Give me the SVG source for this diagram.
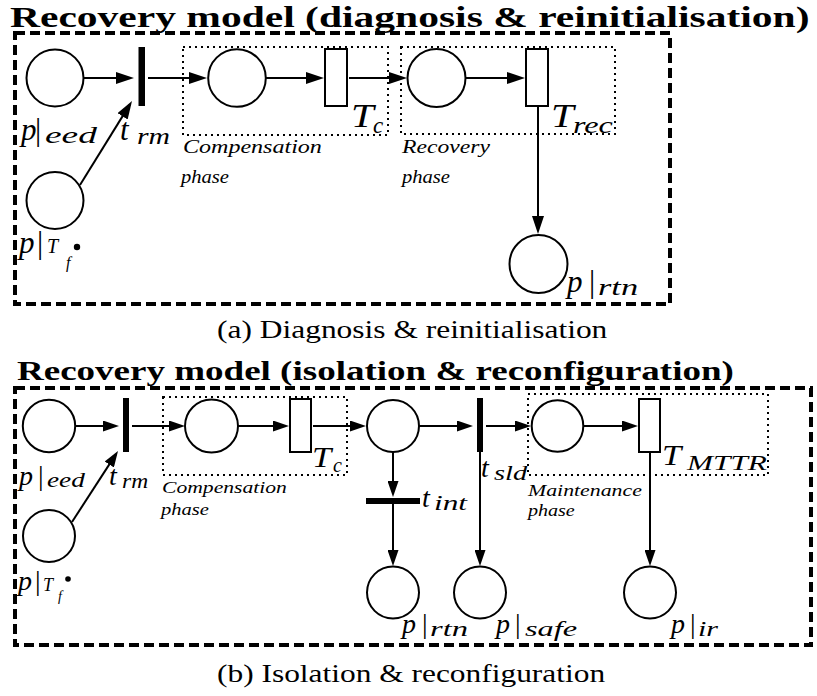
<svg xmlns="http://www.w3.org/2000/svg" width="817" height="696" viewBox="0 0 817 696">
  <style>
    .outer { fill: none; stroke: #000; stroke-width: 4; stroke-dasharray: 10 5; }
    .phase { fill: none; stroke: #000; stroke-width: 2; stroke-dasharray: 2 4; }
    .place { fill: #fff; stroke: #000; stroke-width: 2; }
    .imm { fill: #000; }
    .timed { fill: #fff; stroke: #000; stroke-width: 2; }
    .arc { fill: none; stroke: #000; stroke-width: 2; }
  </style>
  <defs>
    <marker id="arrA" viewBox="0 0 18 12" markerWidth="18" markerHeight="12" refX="14" refY="6" orient="auto" markerUnits="userSpaceOnUse">
      <path d="M0,0 L18,6 L0,12 z" fill="#000"/>
    </marker>
    <marker id="arrB" viewBox="0 0 16 11" markerWidth="16" markerHeight="11" refX="12" refY="5.5" orient="auto" markerUnits="userSpaceOnUse">
      <path d="M0,0 L16,5.5 L0,11 z" fill="#000"/>
    </marker>
  </defs>
  <rect width="817" height="696" fill="#fff"/>

  <!-- frames: dashed model borders, dotted phase boxes -->
  <rect class="outer" x="15" y="33" width="655" height="271"/>
  <rect class="outer" x="15" y="388" width="796" height="257"/>
  <rect class="phase" x="183" y="47" width="205" height="88"/>
  <rect class="phase" x="401" y="47" width="214" height="87"/>
  <rect class="phase" x="163" y="397" width="184" height="78"/>
  <rect class="phase" x="528" y="394" width="240" height="81"/>

  <!-- titles, captions, phase names (wide lettering via horizontal scale) -->
  <text font-family="Liberation Serif, serif" font-weight="bold" font-size="30" transform="translate(10,27) scale(1.384,1)">Recovery model (diagnosis &amp; reinitialisation)</text>
  <text font-family="Liberation Serif, serif" font-size="26" transform="translate(217,338) scale(1.21,1)">(a) Diagnosis &amp; reinitialisation</text>
  <text font-family="Liberation Serif, serif" font-weight="bold" font-size="26.5" transform="translate(17,380) scale(1.397,1)">Recovery model (isolation &amp; reconfiguration)</text>
  <text font-family="Liberation Serif, serif" font-size="26" transform="translate(217,682) scale(1.208,1)">(b) Isolation &amp; reconfiguration</text>

  <text font-family="Liberation Serif, serif" font-style="italic" font-size="19" transform="translate(183,153) scale(1.266,1)">Compensation</text>
  <text font-family="Liberation Serif, serif" font-style="italic" font-size="19" transform="translate(181,183) scale(1.083,1)">phase</text>
  <text font-family="Liberation Serif, serif" font-style="italic" font-size="19" transform="translate(402,153) scale(1.245,1)">Recovery</text>
  <text font-family="Liberation Serif, serif" font-style="italic" font-size="19" transform="translate(402,183) scale(1.083,1)">phase</text>
  <text font-family="Liberation Serif, serif" font-style="italic" font-size="17" transform="translate(162,493) scale(1.273,1)">Compensation</text>
  <text font-family="Liberation Serif, serif" font-style="italic" font-size="17" transform="translate(161,515) scale(1.21,1)">phase</text>
  <text font-family="Liberation Serif, serif" font-style="italic" font-size="17" transform="translate(528,496) scale(1.284,1)">Maintenance</text>
  <text font-family="Liberation Serif, serif" font-style="italic" font-size="17" transform="translate(528,516) scale(1.18,1)">phase</text>

  <!-- arcs -->
  <g id="connectors">
    <g class="arc" marker-end="url(#arrA)">
      <line x1="84" y1="78" x2="130" y2="78"/>
      <line x1="80" y1="185" x2="129.9" y2="104.4"/>
      <line x1="148" y1="78" x2="203" y2="78"/>
      <line x1="266" y1="78" x2="320" y2="78"/>
      <line x1="349" y1="78" x2="403" y2="78"/>
      <line x1="466" y1="78" x2="521" y2="78"/>
      <line x1="538" y1="107" x2="538" y2="230"/>
    </g>
    <g class="arc" marker-end="url(#arrB)">
      <line x1="75" y1="426" x2="115" y2="426"/>
      <line x1="72" y1="522" x2="115.8" y2="454.4"/>
      <line x1="132" y1="426" x2="181" y2="426"/>
      <line x1="238" y1="426" x2="285" y2="426"/>
      <line x1="313" y1="426" x2="362" y2="426"/>
      <line x1="419" y1="426" x2="469" y2="426"/>
      <line x1="486" y1="426" x2="527" y2="426"/>
      <line x1="583" y1="426" x2="634" y2="426"/>
      <line x1="393" y1="452" x2="393" y2="493"/>
      <line x1="393" y1="504" x2="393" y2="562"/>
      <line x1="480" y1="452" x2="480" y2="562"/>
      <line x1="650" y1="452" x2="650" y2="562"/>
    </g>
  </g>

  <!-- ===== model (a) nodes ===== -->
  <g id="a-p-eed">
    <circle class="place" cx="55" cy="78" r="28.5"/>
    <text font-family="Liberation Serif, serif" font-style="italic" x="21" y="140" font-size="31">p</text>
    <text font-family="Liberation Serif, serif" x="35" y="140" font-size="31">|</text>
    <text font-family="Liberation Serif, serif" font-style="italic" font-size="24" transform="translate(45,143) scale(1.56,1)">eed</text>
  </g>
  <g id="a-p-tf">
    <circle class="place" cx="55" cy="200.5" r="28.5"/>
    <text font-family="Liberation Serif, serif" font-style="italic" x="19" y="253" font-size="31">p</text>
    <text font-family="Liberation Serif, serif" x="37" y="253" font-size="31">|</text>
    <text font-family="Liberation Serif, serif" font-style="italic" x="47" y="253" font-size="20">T</text>
    <text font-family="Liberation Serif, serif" font-style="italic" x="66" y="268" font-size="16">f</text>
    <circle cx="77" cy="247" r="3.2" fill="#000"/>
  </g>
  <g id="a-t-rm">
    <rect class="imm" x="138.5" y="47" width="6.5" height="59"/>
    <text font-family="Liberation Serif, serif" font-style="italic" x="120" y="140" font-size="31">t</text>
    <text font-family="Liberation Serif, serif" font-style="italic" font-size="24" transform="translate(137,144) scale(1.24,1)">rm</text>
  </g>
  <g id="a-p-comp">
    <circle class="place" cx="237" cy="78" r="28.8"/>
  </g>
  <g id="a-t-c">
    <rect class="timed" x="325" y="49" width="22" height="57"/>
    <text font-family="Liberation Serif, serif" font-style="italic" font-size="34" transform="translate(351,127) scale(1.2,1)">T</text>
    <text font-family="Liberation Serif, serif" font-style="italic" x="373" y="133" font-size="23">c</text>
  </g>
  <g id="a-p-rec">
    <circle class="place" cx="436.5" cy="78" r="29"/>
  </g>
  <g id="a-t-rec">
    <rect class="timed" x="526" y="49" width="22" height="57"/>
    <text font-family="Liberation Serif, serif" font-style="italic" font-size="34" transform="translate(551,127) scale(1.2,1)">T</text>
    <text font-family="Liberation Serif, serif" font-style="italic" font-size="24" transform="translate(573,133) scale(1.34,1)">rec</text>
  </g>
  <g id="a-p-rtn">
    <circle class="place" cx="538.5" cy="264" r="29"/>
    <text font-family="Liberation Serif, serif" font-style="italic" x="567" y="292" font-size="31">p</text>
    <text font-family="Liberation Serif, serif" x="589" y="292" font-size="31">|</text>
    <text font-family="Liberation Serif, serif" font-style="italic" font-size="24" transform="translate(598,295) scale(1.43,1)">rtn</text>
  </g>

  <!-- ===== model (b) nodes ===== -->
  <g id="b-p-eed">
    <circle class="place" cx="49" cy="426" r="26.2"/>
    <text font-family="Liberation Serif, serif" font-style="italic" x="19" y="485" font-size="28">p</text>
    <text font-family="Liberation Serif, serif" x="38" y="485" font-size="28">|</text>
    <text font-family="Liberation Serif, serif" font-style="italic" font-size="21" transform="translate(47,487) scale(1.3,1)">eed</text>
  </g>
  <g id="b-p-tf">
    <circle class="place" cx="49" cy="536" r="26"/>
    <text font-family="Liberation Serif, serif" font-style="italic" x="18" y="590" font-size="28">p</text>
    <text font-family="Liberation Serif, serif" x="35" y="590" font-size="28">|</text>
    <text font-family="Liberation Serif, serif" font-style="italic" x="43" y="591" font-size="18">T</text>
    <text font-family="Liberation Serif, serif" font-style="italic" x="58" y="601" font-size="14">f</text>
    <circle cx="68" cy="579" r="2.8" fill="#000"/>
  </g>
  <g id="b-t-rm">
    <rect class="imm" x="123" y="398" width="6" height="54"/>
    <text font-family="Liberation Serif, serif" font-style="italic" x="109" y="485" font-size="28">t</text>
    <text font-family="Liberation Serif, serif" font-style="italic" font-size="21" transform="translate(122,488) scale(1.12,1)">rm</text>
  </g>
  <g id="b-p-comp">
    <circle class="place" cx="211.5" cy="426" r="26.5"/>
  </g>
  <g id="b-t-c">
    <rect class="timed" x="290" y="399" width="21" height="53"/>
    <text font-family="Liberation Serif, serif" font-style="italic" font-size="30" transform="translate(312,467) scale(1.15,1)">T</text>
    <text font-family="Liberation Serif, serif" font-style="italic" x="333" y="472" font-size="20">c</text>
  </g>
  <g id="b-p-det">
    <circle class="place" cx="393" cy="426" r="26"/>
  </g>
  <g id="b-t-int">
    <rect class="imm" x="366" y="498" width="54" height="6"/>
    <text font-family="Liberation Serif, serif" font-style="italic" x="422" y="507" font-size="28">t</text>
    <text font-family="Liberation Serif, serif" font-style="italic" font-size="21" transform="translate(434,510) scale(1.49,1)">int</text>
  </g>
  <g id="b-t-sld">
    <rect class="imm" x="477" y="398" width="6" height="54"/>
    <text font-family="Liberation Serif, serif" font-style="italic" x="481" y="477" font-size="28">t</text>
    <text font-family="Liberation Serif, serif" font-style="italic" font-size="21" transform="translate(494,480) scale(1.35,1)">sld</text>
  </g>
  <g id="b-p-maint">
    <circle class="place" cx="557.5" cy="426" r="25.8"/>
  </g>
  <g id="b-t-mttr">
    <rect class="timed" x="639" y="399" width="21" height="53"/>
    <text font-family="Liberation Serif, serif" font-style="italic" font-size="30" transform="translate(662,465) scale(1.15,1)">T</text>
    <text font-family="Liberation Serif, serif" font-style="italic" font-size="21" transform="translate(687,470) scale(1.49,1)">MTTR</text>
  </g>
  <g id="b-p-rtn">
    <circle class="place" cx="393" cy="592.5" r="26"/>
    <text font-family="Liberation Serif, serif" font-style="italic" x="402" y="633" font-size="28">p</text>
    <text font-family="Liberation Serif, serif" x="422" y="633" font-size="28">|</text>
    <text font-family="Liberation Serif, serif" font-style="italic" font-size="21" transform="translate(430,636) scale(1.55,1)">rtn</text>
  </g>
  <g id="b-p-safe">
    <circle class="place" cx="480" cy="592.5" r="26"/>
    <text font-family="Liberation Serif, serif" font-style="italic" x="496" y="633" font-size="28">p</text>
    <text font-family="Liberation Serif, serif" x="515" y="633" font-size="28">|</text>
    <text font-family="Liberation Serif, serif" font-style="italic" font-size="21" transform="translate(525,636) scale(1.54,1)">safe</text>
  </g>
  <g id="b-p-ir">
    <circle class="place" cx="650" cy="592.5" r="26"/>
    <text font-family="Liberation Serif, serif" font-style="italic" x="671" y="633" font-size="28">p</text>
    <text font-family="Liberation Serif, serif" x="690" y="633" font-size="28">|</text>
    <text font-family="Liberation Serif, serif" font-style="italic" font-size="21" transform="translate(698,636) scale(1.43,1)">ir</text>
  </g>
</svg>
